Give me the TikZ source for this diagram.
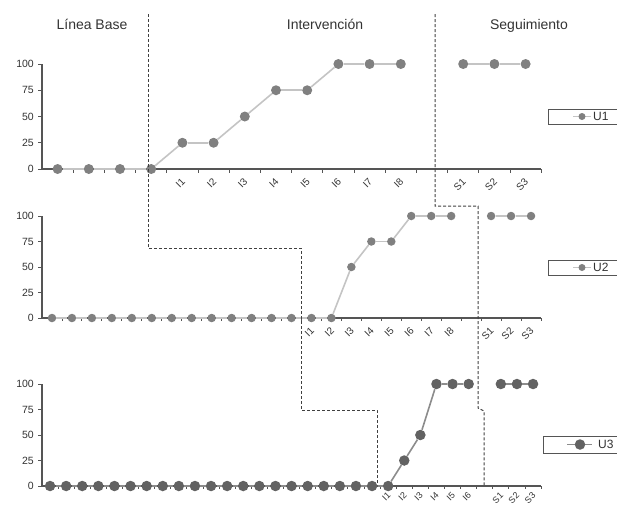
\documentclass[tikz,border=0pt]{standalone}
\usepackage{fontspec}
\setmainfont{Liberation Sans}
\definecolor{axisgray}{HTML}{555555}
\definecolor{txtgray}{HTML}{333333}
\definecolor{mkgray}{HTML}{808080}
\definecolor{mkdark}{HTML}{626262}
\definecolor{lnlight}{HTML}{C4C4C4}
\definecolor{lnmid}{HTML}{8C8C8C}
\definecolor{dashgray}{HTML}{404040}
\begin{document}
\begin{tikzpicture}[x=1pt,y=-1pt,
  axisline/.style={draw=axisgray,line width=1.2pt},
  tickline/.style={draw=axisgray,line width=0.9pt},
  ylab/.style={anchor=east,inner sep=0pt,text=txtgray,font=\fontsize{10.5}{12}\selectfont},
  xlab/.style={anchor=east,rotate=45,inner sep=0pt,text=txtgray,font=\fontsize{10}{12}\selectfont},
  xlabs/.style={anchor=east,rotate=45,inner sep=0pt,text=txtgray,font=\fontsize{9}{11}\selectfont},
  head/.style={anchor=base,inner sep=0pt,text=txtgray,font=\fontsize{14}{16}\selectfont},
  mkA/.style={circle,fill=mkgray,minimum size=10pt,inner sep=0pt},
  mkB/.style={circle,fill=mkgray,minimum size=8.5pt,inner sep=0pt},
  mkC/.style={circle,fill=mkdark,minimum size=10.5pt,inner sep=0pt},
  lnA/.style={draw=lnlight,line width=1.6pt},
  lnC/.style={draw=lnmid,line width=1.6pt},
  phase/.style={draw=dashgray,line width=1pt,dash pattern=on 3pt off 2pt},
  legbox/.style={draw=axisgray,line width=1pt,fill=white},
  legtxt/.style={anchor=west,inner sep=0pt,text=txtgray,font=\fontsize{12}{14}\selectfont}]
\useasboundingbox (0,0) rectangle (617,507);
\clip (0,0) rectangle (617,507);

% headers
\node[head] (hLB) at (92,29) {Línea Base};
\node[head] (hI) at (325,29) {Intervención};
\node[head] (hS) at (529,29) {Seguimiento};

% ================= chart 1 =================
\draw[axisline] (42,64) -- (42,169) -- (541,169);
\foreach \v in {0,25,50,75,100}{
  \draw[tickline] (38,{169-1.05*\v}) -- (42,{169-1.05*\v});
  \node[ylab] (ya\v) at (34,{169-1.05*\v}) {\v};
}
\foreach \k in {1,...,16} \draw[tickline] ({42+31.2*\k},169) -- ({42+31.2*\k},173);
\foreach \k/\v in {0/0,1/0,2/0,3/0,4/25,5/25,6/50,7/75,8/75,9/100,10/100,11/100,13/100,14/100,15/100}
  \node[mkA] (a\k) at ({42+31.2*(\k+0.5)},{169-1.05*\v}) {};
\foreach \k [evaluate=\k as \n using int(\k+1)] in {0,...,10,13,14}
  \draw[lnA] (a\k) -- (a\n);
\foreach \k/\t in {4/I1,5/I2,6/I3,7/I4,8/I5,9/I6,10/I7,11/I8,13/S1,14/S2,15/S3}
  \node[xlab] (la\k) at ({42+31.2*(\k+0.5)+1},180) {\t};

% ================= chart 2 =================
\draw[axisline] (42,216) -- (42,318) -- (541,318);
\foreach \v in {0,25,50,75,100}{
  \draw[tickline] (38,{318-1.02*\v}) -- (42,{318-1.02*\v});
  \node[ylab] (yb\v) at (34,{318-1.02*\v}) {\v};
}
\foreach \k in {1,...,25} \draw[tickline] ({42+19.96*\k},318) -- ({42+19.96*\k},321);
\foreach \k/\v in {0/0,1/0,2/0,3/0,4/0,5/0,6/0,7/0,8/0,9/0,10/0,11/0,12/0,13/0,14/0,15/50,16/75,17/75,18/100,19/100,20/100,22/100,23/100,24/100}
  \node[mkB] (b\k) at ({42+19.96*(\k+0.5)},{318-1.02*\v}) {};
\foreach \k [evaluate=\k as \n using int(\k+1)] in {0,...,19,22,23}
  \draw[lnA] (b\k) -- (b\n);
\foreach \k/\t in {13/I1,14/I2,15/I3,16/I4,17/I5,18/I6,19/I7,20/I8,22/S1,23/S2,24/S3}
  \node[xlab] (lb\k) at ({42+19.96*(\k+0.5)+1},329) {\t};

% ================= chart 3 =================
\draw[axisline] (42,384) -- (42,486) -- (541,486);
\foreach \v in {0,25,50,75,100}{
  \draw[tickline] (38,{486-1.02*\v}) -- (42,{486-1.02*\v});
  \node[ylab] (yc\v) at (34,{486-1.02*\v}) {\v};
}
\foreach \k in {1,...,31} \draw[tickline] ({42+16.1*\k},486) -- ({42+16.1*\k},489);
\foreach \k/\v in {0/0,1/0,2/0,3/0,4/0,5/0,6/0,7/0,8/0,9/0,10/0,11/0,12/0,13/0,14/0,15/0,16/0,17/0,18/0,19/0,20/0,21/0,22/25,23/50,24/100,25/100,26/100,28/100,29/100,30/100}
  \node[mkC] (c\k) at ({42+16.1*(\k+0.5)},{486-1.02*\v}) {};
\foreach \k [evaluate=\k as \n using int(\k+1)] in {0,...,25,28,29}
  \draw[lnC] (c\k) -- (c\n);
\foreach \k/\t in {21/I1,22/I2,23/I3,24/I4,25/I5,26/I6,28/S1,29/S2,30/S3}
  \node[xlabs] (lc\k) at ({42+16.1*(\k+0.5)+1},494) {\t};

% ================= phase change lines =================
\coordinate (p1a) at (148,14);
\coordinate (p1b) at (148,248);
\coordinate (p1c) at (301,248);
\coordinate (p1d) at (301,410);
\coordinate (p1e) at (377,410);
\coordinate (p1f) at (377,484);
\draw[phase] (p1a) -- (p1b) -- (p1c) -- (p1d) -- (p1e) -- (p1f);
\coordinate (p2a) at (435,14);
\coordinate (p2b) at (435,206);
\coordinate (p2c) at (478,206);
\coordinate (p2d) at (478,408);
\coordinate (p2e) at (484,411);
\coordinate (p2f) at (484,485);
\draw[phase] (p2a) -- (p2b) -- (p2c) -- (p2d) -- (p2e) -- (p2f);

% ================= legends =================
\node[legbox,minimum width=80pt,minimum height=15pt,anchor=north west] (L1) at (548,109) {};
\coordinate (L1a) at (573,116.5);
\coordinate (L1b) at (591,116.5);
\draw[lnA,line width=1.2pt] (L1a) -- (L1b);
\node[mkA,minimum size=7pt] (L1m) at (582,116.5) {};
\node[legtxt] (L1t) at (593,116.5) {U1};

\node[legbox,minimum width=80pt,minimum height=15pt,anchor=north west] (L2) at (548,260) {};
\coordinate (L2a) at (573,267.5);
\coordinate (L2b) at (591,267.5);
\draw[lnA,line width=1.2pt] (L2a) -- (L2b);
\node[mkB,minimum size=7pt] (L2m) at (582,267.5) {};
\node[legtxt] (L2t) at (593,267.5) {U2};

\node[legbox,minimum width=85pt,minimum height=17pt,anchor=north west] (L3) at (543,436) {};
\coordinate (L3a) at (567,444.5);
\coordinate (L3b) at (592,444.5);
\draw[lnC,line width=1.4pt] (L3a) -- (L3b);
\node[mkC] (L3m) at (580,444.5) {};
\node[legtxt] (L3t) at (598,444.5) {U3};
\end{tikzpicture}
\end{document}
